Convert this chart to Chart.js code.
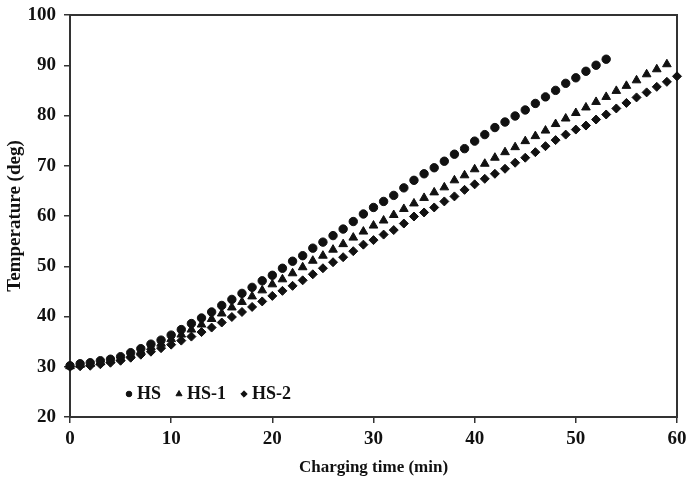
<!DOCTYPE html>
<html>
<head>
<meta charset="utf-8">
<script src="https://cdn.jsdelivr.net/npm/chart.js@4"></script>
<style>
  html, body { margin: 0; padding: 0; background: #fff; }
  #wrap { width: 688px; height: 482px; }
</style>
</head>
<body>
<div id="wrap"><canvas id="canvas" width="688" height="482"></canvas></div>
<script>
//--Datos------------------------------------------------
var times = [0, 1, 2, 3, 4, 5, 6, 7, 8, 9, 10, 11, 12, 13, 14, 15, 16, 17, 18, 19, 20,
             21, 22, 23, 24, 25, 26, 27, 28, 29, 30, 31, 32, 33, 34, 35, 36, 37, 38, 39, 40,
             41, 42, 43, 44, 45, 46, 47, 48, 49, 50, 51, 52, 53, 54, 55, 56, 57, 58, 59, 60];

var hs = [30.2, 30.6, 30.8, 31.2, 31.5, 32.0, 32.8, 33.6, 34.5, 35.3, 36.3,
          37.4, 38.6, 39.7, 40.9, 42.2, 43.4, 44.6, 45.8, 47.1, 48.2,
          49.6, 51.0, 52.1, 53.6, 54.8, 56.1, 57.4, 58.9, 60.4, 61.7,
          62.9, 64.1, 65.6, 67.1, 68.4, 69.6, 70.9, 72.3, 73.4, 74.9,
          76.2, 77.6, 78.7, 79.9, 81.1, 82.4, 83.7, 85.0, 86.4, 87.5,
          88.8, 90.0, 91.2];

var hs1 = [30.1, 30.4, 30.6, 30.9, 31.3, 31.7, 32.4, 33.1, 33.9, 34.6, 35.5,
           36.4, 37.4, 38.4, 39.5, 40.6, 41.8, 42.9, 44.0, 45.2, 46.4,
           47.4, 48.6, 49.8, 51.1, 52.1, 53.3, 54.4, 55.7, 56.9, 58.1,
           59.1, 60.2, 61.4, 62.5, 63.6, 64.7, 65.7, 67.1, 68.1, 69.3,
           70.4, 71.6, 72.7, 73.7, 74.9, 75.9, 77.0, 78.3, 79.4, 80.5,
           81.6, 82.7, 83.7, 84.9, 85.9, 87.0, 88.2, 89.2, 90.2];

var hs2 = [30.0, 30.1, 30.2, 30.5, 30.8, 31.2, 31.8, 32.4, 33.0, 33.7, 34.4,
           35.2, 36.0, 36.9, 37.8, 38.8, 39.9, 40.9, 41.9, 43.0, 44.1,
           45.1, 46.1, 47.2, 48.4, 49.6, 50.8, 51.8, 53.0, 54.3, 55.2,
           56.3, 57.2, 58.5, 59.9, 60.7, 61.7, 62.9, 63.9, 65.2, 66.3,
           67.4, 68.4, 69.4, 70.6, 71.6, 72.7, 73.9, 75.1, 76.2, 77.2,
           78.0, 79.2, 80.2, 81.4, 82.5, 83.6, 84.6, 85.7, 86.7, 87.8];

var xTicks = [0, 10, 20, 30, 40, 50, 60];
var yTicks = [20, 30, 40, 50, 60, 70, 80, 90, 100];

var FONT = '"Liberation Serif", "Times New Roman", serif';
var INK = '#111';
var AXIS = '#333';

function toPoints(vals) {
    return vals.map(function (v, i) { return { x: times[i], y: v }; });
}

//--Marco alrededor del area del grafico----------------------------
var framePlugin = {
    id: 'frame',
    beforeDatasetsDraw: function (chart) {
        var a = chart.chartArea, ctx = chart.ctx;
        ctx.save();
        ctx.strokeStyle = AXIS;
        ctx.lineWidth = 2;
        ctx.strokeRect(a.left, a.top, a.right - a.left, a.bottom - a.top);
        ctx.restore();
    }
};

//--Leyenda dentro del grafico----------------------------
var innerLegend = {
    id: 'innerLegend',
    afterDatasetsDraw: function (chart) {
        var ctx = chart.ctx, a = chart.chartArea;
        var x = a.left + 59, y = a.bottom - 24;
        ctx.save();
        ctx.font = 'bold 18px ' + FONT;
        ctx.textBaseline = 'middle';
        chart.data.datasets.forEach(function (ds) {
            ctx.fillStyle = INK;
            ctx.strokeStyle = INK;
            Chart.helpers.drawPoint(ctx, {
                pointStyle: ds.pointStyle,
                radius: ds.legendRadius,
                rotation: 0,
                borderWidth: 1
            }, x, y + 1);
            ctx.fillStyle = INK;
            ctx.fillText(ds.label, x + 8, y + 1);
            x += 8 + ctx.measureText(ds.label).width + 18;
        });
        ctx.restore();
    }
};

function makeSet(label, vals, style, r, lr) {
    return {
        label: label,
        data: toPoints(vals),
        pointStyle: style,
        pointRadius: r,
        legendRadius: lr,
        pointBackgroundColor: INK,
        pointBorderColor: INK,
        pointBorderWidth: 1,
        showLine: false,
        clip: false
    };
}

var ctx = document.getElementById('canvas').getContext('2d');
var myChart = new Chart(ctx, {
    type: 'scatter',
    data: {
        datasets: [
            makeSet('HS', hs, 'circle', 4.2, 2.8),
            makeSet('HS-1', hs1, 'triangle', 5, 3.5),
            makeSet('HS-2', hs2, 'rectRot', 4.5, 3.2)
        ]
    },
    options: {
        responsive: false,
        animation: false,
        layout: { padding: { top: 15, right: 11, left: 0, bottom: 0 } },
        plugins: {
            legend: { display: false },
            tooltip: { enabled: false }
        },
        scales: {
            x: {
                type: 'linear',
                min: 0, max: 60,
                afterFit: function (scale) {
                    scale.height = 65;
                    scale.paddingLeft = 0;
                    scale.paddingRight = 0;
                },
                afterBuildTicks: function (scale) {
                    scale.ticks = xTicks.map(function (v) { return { value: v }; });
                },
                grid: { display: true, drawOnChartArea: false, drawTicks: true, tickLength: 6, color: AXIS, lineWidth: 1.5 },
                border: { display: false },
                ticks: { padding: 5, color: INK, font: { family: FONT, size: 19, weight: 'bold' }, maxRotation: 0 },
                title: { display: true, text: 'Charging time (min)', color: INK, padding: { top: 3 },
                         font: { family: FONT, size: 17, weight: 'bold' } }
            },
            y: {
                min: 20, max: 100,
                afterFit: function (scale) {
                    scale.width = 70;
                    scale.paddingTop = 0;
                    scale.paddingBottom = 0;
                },
                afterBuildTicks: function (scale) {
                    scale.ticks = yTicks.map(function (v) { return { value: v }; });
                },
                grid: { display: true, drawOnChartArea: false, drawTicks: true, tickLength: 6, color: AXIS, lineWidth: 1.5 },
                border: { display: false },
                ticks: { padding: 8, color: INK, font: { family: FONT, size: 19, weight: 'bold' } },
                title: { display: true, text: 'Temperature (deg)', color: INK, padding: { top: 4, bottom: 0 },
                         font: { family: FONT, size: 19, weight: 'bold' } }
            }
        }
    },
    plugins: [framePlugin, innerLegend]
});
</script>
</body>
</html>
